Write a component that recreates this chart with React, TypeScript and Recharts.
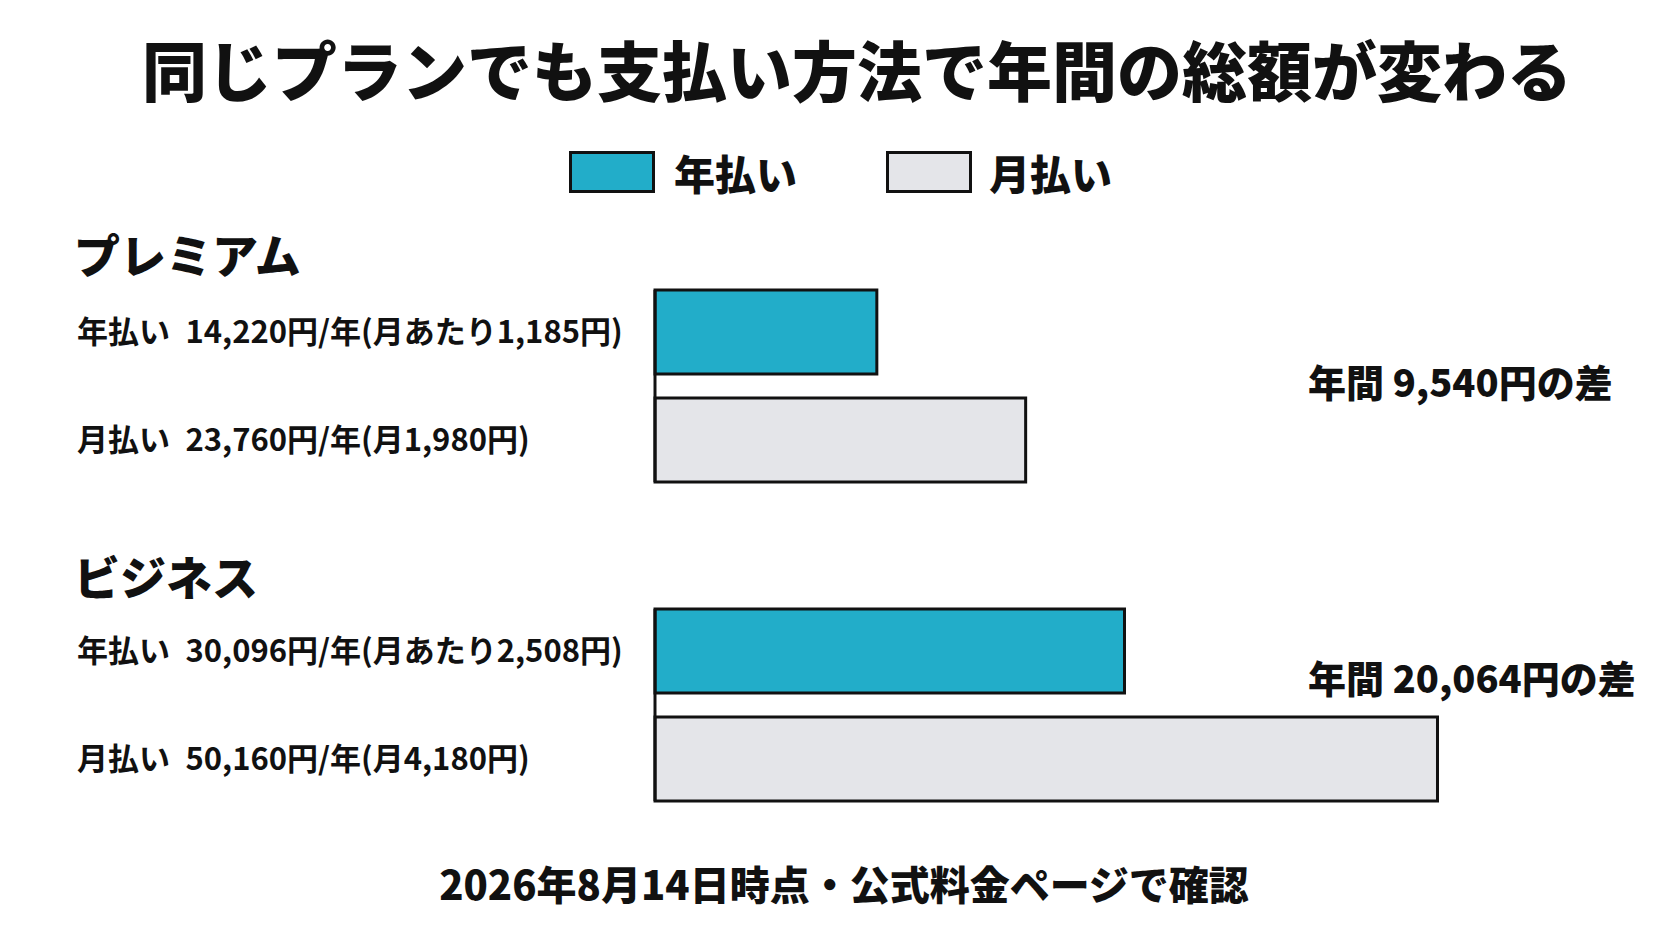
import { Bar, BarChart, Cell, XAxis, YAxis } from 'recharts';

// plans, in drawing order
const plans = ['プレミアム', 'ビジネス'];
// series: annual payment / monthly payment
const seriesNames = ['年払い', '月払い'];
const seriesColors = ['#22ADC9', '#E4E5E9'];
// yearly totals (yen)
const annualYen = [14220, 30096];
const monthlyYen = [23760, 50160];
// per-month amounts shown in the labels (yen)
const annualPerMonthYen = [1185, 2508];
const monthlyPerMonthYen = [1980, 4180];
// x range shared by both plans
const xDomain = [0, 60000];

const FONT = '"Noto Sans CJK JP", "Noto Sans", sans-serif';
const INK = '#111111';

const yen = (v: number) => v.toLocaleString('en-US');

function planRows(i: number) {
    return [
        {
            label : `${seriesNames[0]}\u2002${yen(annualYen[i])}円/年(月あたり${yen(annualPerMonthYen[i])}円)`,
            value : annualYen[i]
        },
        {
            label : `${seriesNames[1]}\u2002${yen(monthlyYen[i])}円/年(月${yen(monthlyPerMonthYen[i])}円)`,
            value : monthlyYen[i]
        }
    ];
}

function RowTick(props: any) {
    return (
        <text
            x={77}
            y={props.y}
            dy="0.36em"
            textAnchor="start"
            fontFamily={FONT}
            fontWeight={700}
            fontSize={31}
            fill={INK}
        >
            {props.payload.value}
        </text>
    );
}

function PlanChart({ index }: { index: number }) {
    const rows = planRows(index);
    return (
        <BarChart
            width={1672}
            height={232}
            data={rows}
            layout="vertical"
            margin={{ top: 20, right: 81, bottom: 20, left: 0 }}
        >
            <XAxis type="number" domain={xDomain} hide />
            <YAxis
                type="category"
                dataKey="label"
                width={655}
                padding={{ top: -12, bottom: -12 }}
                axisLine={{ stroke: INK, strokeWidth: 3 }}
                tickLine={false}
                tick={<RowTick />}
            />
            <Bar
                dataKey="value"
                barSize={84}
                stroke={INK}
                strokeWidth={3}
                isAnimationActive={false}
            >
                {rows.map((_row, i) => (
                    <Cell key={`cell-${i}`} fill={seriesColors[i]} />
                ))}
            </Bar>
        </BarChart>
    );
}

const abs = (left: number, top: number, extra: any = {}) => ({
    position : 'absolute' as const,
    left,
    top,
    ...extra
});

export default function App() {
    const sectionTops = [253, 575];
    const chartTops = [270, 589];
    const diffTops = [381, 677];
    return (
        <div
            style={{
                position   : 'absolute',
                left       : 0,
                top        : 0,
                width      : 1672,
                height     : 941,
                background : '#ffffff',
                fontFamily : FONT,
                color      : INK,
                overflow   : 'hidden'
            }}
        >
            <div
                style={abs(0, 68, {
                    width      : 1714,
                    textAlign  : 'center',
                    fontSize   : 65,
                    fontWeight : 900,
                    lineHeight : '80px',
                    transform  : 'translateY(-50%)'
                })}
            >
                同じプランでも支払い方法で年間の総額が変わる
            </div>

            {seriesNames.map((name, i) => (
                <div key={name}>
                    <div
                        style={abs(569 + i * 317, 151, {
                            width      : 80,
                            height     : 36,
                            background : seriesColors[i],
                            border     : `3px solid ${INK}`
                        })}
                    />
                    <div
                        style={abs(674 + i * 315, 172, {
                            fontSize   : 41,
                            fontWeight : 900,
                            lineHeight : '50px',
                            transform  : 'translateY(-50%)'
                        })}
                    >
                        {name}
                    </div>
                </div>
            ))}

            {plans.map((plan, i) => (
                <div key={plan}>
                    <div
                        style={abs(74, sectionTops[i], {
                            fontSize   : 46,
                            fontWeight : 900,
                            lineHeight : '56px',
                            transform  : 'translateY(-50%)'
                        })}
                    >
                        {plan}
                    </div>
                    <div style={abs(0, chartTops[i])}>
                        <PlanChart index={i} />
                    </div>
                    <div
                        style={abs(1308, diffTops[i], {
                            fontSize   : 38,
                            fontWeight : 900,
                            lineHeight : '46px',
                            whiteSpace : 'nowrap',
                            transform  : 'translateY(-50%)'
                        })}
                    >
                        年間 {yen(monthlyYen[i] - annualYen[i])}円の差
                    </div>
                </div>
            ))}

            <div
                style={abs(0, 883, {
                    width      : 1688,
                    textAlign  : 'center',
                    fontSize   : 40,
                    fontWeight : 900,
                    lineHeight : '48px',
                    transform  : 'translateY(-50%)'
                })}
            >
                2026年8月14日時点・公式料金ページで確認
            </div>
        </div>
    );
}
